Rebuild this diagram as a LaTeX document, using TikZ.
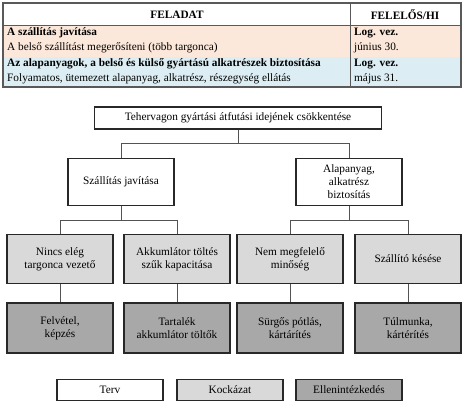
\documentclass[tikz,border=0pt]{standalone}
\usepackage{fontspec}
\setmainfont{Liberation Serif}
\definecolor{peach}{RGB}{252,232,218}
\definecolor{skyblue}{RGB}{220,238,244}
\definecolor{riskgray}{RGB}{217,217,217}
\definecolor{measgray}{RGB}{168,168,168}
\definecolor{rim}{RGB}{40,40,40}
\begin{document}
\begin{tikzpicture}[
      x=1pt, y=-1pt,
      every node/.style={font=\fontsize{11.3}{13}\selectfont, align=center, inner sep=0pt},
      plan/.style={draw=rim, line width=1.2pt, fill=white, minimum width=106pt, minimum height=47pt},
      risk/.style={draw=rim, line width=1.2pt, fill=riskgray, minimum width=106pt, minimum height=49pt},
      meas/.style={draw=rim, line width=1.2pt, fill=measgray, minimum width=106pt, minimum height=50pt},
      key/.style={draw=rim, line width=1.2pt, minimum width=106pt, minimum height=21pt},
      cell/.style={anchor=west},
      bcell/.style={anchor=west, font=\fontsize{11.3}{13}\selectfont\bfseries},
      link/.style={draw=rim!80, line width=0.8pt}
    ]
      \useasboundingbox (0,0) rectangle (464,404);
      % table
      \fill[peach] (3,25) rectangle (461,57);
      \fill[skyblue] (3,57) rectangle (461,87);
      \draw[gray!70!black, line width=0.8pt] (3,25) -- (461,25);
      \draw[gray!70!black, line width=0.8pt] (350,3) -- (350,87);
      \draw[gray!70!black, line width=1.5pt] (3,3) rectangle (461,87);
      \node[font=\fontsize{11.3}{13}\selectfont\bfseries] (hd1) at (177,15) {FELADAT};
      \node[font=\fontsize{11.3}{13}\selectfont\bfseries] (hd2) at (405,15) {FELELŐS/HI};
      \node[bcell] (t1) at (7,33) {A szállítás javítása};
      \node[cell] (t2) at (7,48) {A belső szállítást megerősíteni (több targonca)};
      \node[bcell] (t3) at (7,64) {Az alapanyagok, a belső és külső gyártású alkatrészek biztosítása};
      \node[cell] (t4) at (7,79) {Folyamatos, ütemezett alapanyag, alkatrész, részegység ellátás};
      \node[bcell] (r1) at (354,33) {Log. vez.};
      \node[cell] (r2) at (354,48) {június 30.};
      \node[bcell] (r3) at (354,64) {Log. vez.};
      \node[cell] (r4) at (354,79) {május 31.};
      % tree
      \node[plan, minimum width=287pt, minimum height=22pt] (goal) at (238,118) {Tehervagon gyártási átfutási idejének csökkentése};
      \node[plan] (szall) at (121,182) {Szállítás javítása};
      \node[plan] (alap) at (349,182) {Alapanyag,\\alkatrész\\biztosítás};
      \node[risk] (nincs) at (60,259) {Nincs elég\\targonca vezető};
      \node[risk] (akku) at (177,259) {Akkumlátor töltés\\szűk kapacitása};
      \node[risk] (nem) at (290,259) {Nem megfelelő\\minőség};
      \node[risk] (keses) at (408,259) {Szállító késése};
      \node[meas] (felv) at (60,328) {Felvétel,\\képzés};
      \node[meas] (tart) at (177,328) {Tartalék\\akkumlátor töltők};
      \node[meas] (surg) at (290,328) {Sürgős pótlás,\\kártárítés};
      \node[meas] (tulm) at (408,328) {Túlmunka,\\kártérítés};
      \draw[link] (goal.south) -- ++(0,14) -| (szall.north);
      \draw[link] (goal.south) -- ++(0,14) -| (alap.north);
      \draw[link] (szall.south) -- ++(0,14) -| (nincs.north);
      \draw[link] (szall.south) -- ++(0,14) -| (akku.north);
      \draw[link] (alap.south) -- ++(0,14) -| (nem.north);
      \draw[link] (alap.south) -- ++(0,14) -| (keses.north);
      \foreach \a/\b in {nincs/felv, akku/tart, nem/surg, keses/tulm}
        \draw[link] (\a.south) -- (\b.north);
      % legend
      \node[key, fill=white] (k1) at (110,390) {Terv};
      \node[key, fill=riskgray] (k2) at (230,390) {Kockázat};
      \node[key, fill=measgray] (k3) at (349,390) {Ellenintézkedés};
    \end{tikzpicture}
\end{document}
